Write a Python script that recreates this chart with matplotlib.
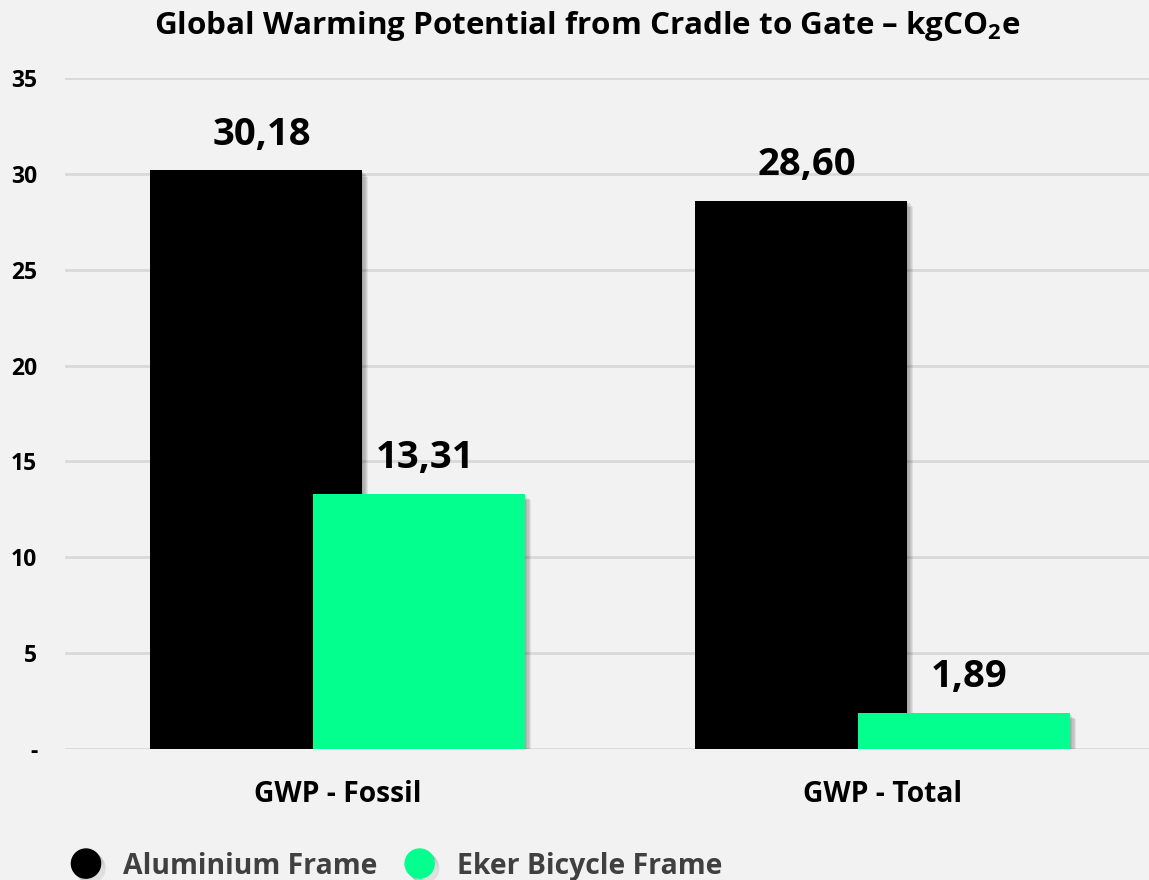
import matplotlib
matplotlib.use("Agg")
import matplotlib.pyplot as plt
import matplotlib.patheffects as pe
from matplotlib.lines import Line2D
import numpy as np

categories = ["GWP - Fossil", "GWP - Total"]
series_names = ["Aluminium Frame", "Eker Bicycle Frame"]
aluminium = [30.18, 28.60]
eker = [13.31, 1.89]
label_aluminium = ["30,18", "28,60"]
label_eker = ["13,31", "1,89"]
yticks = [0, 5, 10, 15, 20, 25, 30, 35]
ytick_labels = ["-", "5", "10", "15", "20", "25", "30", "35"]

FONT = "Open Sans"
plt.rcParams["font.family"] = [FONT, "DejaVu Sans"]
plt.rcParams["mathtext.fontset"] = "custom"
plt.rcParams["mathtext.rm"] = f"{FONT}:bold"
plt.rcParams["mathtext.bf"] = f"{FONT}:bold"
plt.rcParams["mathtext.it"] = f"{FONT}:bold"

BG = "#F2F2F2"
BLACK = "#000000"
GREEN = "#03FF8D"
GRID = "#D9D9D9"

fig = plt.figure(figsize=(11.49, 8.80), dpi=100, facecolor=BG)
ax = fig.add_axes([65 / 1149, 1 - 749 / 880, 1 - 65 / 1149, (749 - 78) / 880])
ax.set_facecolor(BG)

x = np.arange(len(categories))
w = 0.389
off = 0.1495


def soft_shadow(n=5, alpha=0.07):
    effs = [pe.SimplePatchShadow(offset=(k * 0.9, -k * 0.9), shadow_rgbFace="#000000", alpha=alpha)
            for k in range(n, 0, -1)]
    return effs + [pe.Normal()]


def soft_line_shadow(n=4, alpha=0.08):
    effs = [pe.SimpleLineShadow(offset=(k * 0.8, -k * 0.8), shadow_color="#000000", alpha=alpha)
            for k in range(n, 0, -1)]
    return effs + [pe.Normal()]


ax.bar(x - off, aluminium, w, color=BLACK, zorder=3, path_effects=soft_shadow())
ax.bar(x + off, eker, w, color=GREEN, zorder=4, path_effects=soft_shadow())

for xi, v, lab in zip(x - off, aluminium, label_aluminium):
    ax.annotate(lab, (xi, v), xytext=(4, 12), textcoords="offset points",
                ha="center", va="bottom", fontsize=27.5, fontweight="bold", color="black",
                zorder=6)
for xi, v, lab in zip(x + off, eker, label_eker):
    ax.annotate(lab, (xi, v), xytext=(4, 12), textcoords="offset points",
                ha="center", va="bottom", fontsize=27.5, fontweight="bold", color="black",
                zorder=6)

ax.set_xlim(-0.5, 1.489)
ax.set_ylim(0, 35)
ax.set_yticks(yticks)
ax.set_yticklabels(ytick_labels)
ax.set_xticks(x)
ax.set_xticklabels(categories)
ax.tick_params(axis="y", length=0, pad=20, labelsize=16.5)
ax.tick_params(axis="x", length=0, pad=22, labelsize=20.3)
for t in ax.get_yticklabels() + ax.get_xticklabels():
    t.set_fontweight("bold")
    t.set_color("black")
ax.grid(axis="y", color=GRID, linewidth=2, zorder=0)
ax.set_axisbelow(True)
for s in ax.spines.values():
    s.set_visible(False)

fig.text(587 / 1149, 1 - 26 / 880, r"Global Warming Potential from Cradle to Gate – kgCO$_{2}$e",
         ha="center", va="center", fontsize=22.6, fontweight="bold", color="black")

handles = [Line2D([], [], marker="o", linestyle="none", markersize=21, markerfacecolor=c,
                  markeredgecolor=c, path_effects=soft_line_shadow())
           for c in (BLACK, GREEN)]
leg = fig.legend(handles, series_names, loc="center left", bbox_to_anchor=(69 / 1149, 1 - 866 / 880),
                 ncol=2, frameon=False, fontsize=20.4, handletextpad=0.7, columnspacing=0.9,
                 handlelength=1.2, borderaxespad=0, borderpad=0)
for t in leg.get_texts():
    t.set_color("#404040")
    t.set_fontweight("bold")

fig.savefig("out.png", dpi=100, facecolor=BG)
